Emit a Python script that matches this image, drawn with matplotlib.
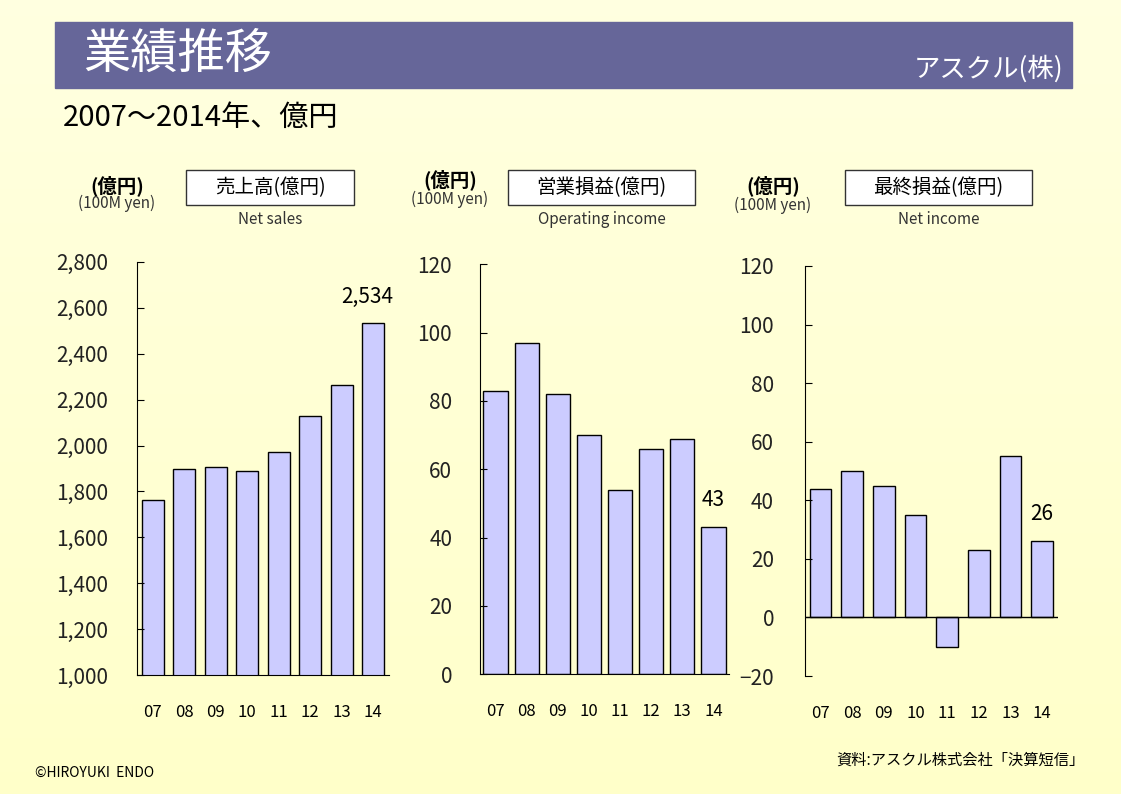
import numpy as np
import matplotlib
matplotlib.use('Agg')
import matplotlib.pyplot as plt
from matplotlib.patches import Rectangle
from matplotlib.ticker import FuncFormatter

plt.rcParams['font.family'] = ['Noto Sans CJK JP', 'DejaVu Sans']

# data (億円)
years = ['07', '08', '09', '10', '11', '12', '13', '14']
net_sales = [1763, 1898, 1907, 1889, 1972, 2129, 2264, 2534]
operating_income = [83, 97, 82, 70, 54, 66, 69, 43]
net_income = [44, 50, 45, 35, -10, 23, 55, 26]

bar_color = '#CCCCFF'

fig = plt.figure(figsize=(11.21, 7.94), dpi=100)

# background + header drawn in pixel coordinates
bg = fig.add_axes([0, 0, 1, 1], zorder=-1)
grad = np.linspace(0, 1, 256).reshape(-1, 1)
c_top = np.array([1.0, 1.0, 0.88])
c_bot = np.array([1.0, 1.0, 0.79])
img = c_top + grad[:, :, None] * (c_bot - c_top)
bg.imshow(img, extent=[0, 1121, 794, 0], aspect='auto')
bg.set_xlim(0, 1121)
bg.set_ylim(794, 0)
bg.axis('off')

bg.add_patch(Rectangle((55, 22), 1017, 66, color='#666699'))
bg.text(83, 55, '業績推移', color='white', fontsize=34, va='center', ha='left')
bg.text(1063, 69, 'アスクル(株)', color='white', fontsize=19, va='center', ha='right')
bg.text(63, 118, '2007〜2014年、億円', color='black', fontsize=21, va='center', ha='left')

headers = [
    (117, 186, 203, 186, 354, '売上高(億円)', 'Net sales'),
    (450, 180, 199, 508, 695, '営業損益(億円)', 'Operating income'),
    (773, 186, 205, 845, 1032, '最終損益(億円)', 'Net income'),
]
for ux, uy, ey, bx0, bx1, jp, en in headers:
    bg.text(ux, uy, '(億円)', fontsize=14, fontweight='bold', ha='center', va='center')
    bg.text(ux, ey, '(100M yen)', fontsize=11, color='#333333', ha='center', va='center')
    bg.add_patch(Rectangle((bx0, 170), bx1 - bx0, 35, facecolor='white',
                           edgecolor='#333333', lw=1))
    bg.text((bx0 + bx1) / 2, 187.5, jp, fontsize=14, ha='center', va='center')
    bg.text((bx0 + bx1) / 2, 220, en, fontsize=11, color='#333333', ha='center', va='center')

bg.text(35, 773, '©HIROYUKI  ENDO', fontsize=10, style='italic', ha='left', va='center')
bg.text(1085, 760, '資料:アスクル株式会社「決算短信」', fontsize=11, ha='right', va='center')


def style_axis(ax, pad_y):
    ax.set_facecolor('none')
    ax.spines['top'].set_visible(False)
    ax.spines['right'].set_visible(False)
    ax.tick_params(axis='y', direction='in', length=5, pad=pad_y, labelsize=15,
                   labelcolor='#222222')
    ax.tick_params(axis='x', length=0, pad=21, labelsize=12)


x = np.arange(len(years))

# 売上高
ax1 = fig.add_axes([0.1222, 0.1499, 0.2248, 0.5202])
ax1.bar(x, net_sales, width=0.7, color=bar_color, edgecolor='black', lw=1)
ax1.set_ylim(1000, 2800)
ax1.set_yticks(range(1000, 2801, 200))
ax1.yaxis.set_major_formatter(FuncFormatter(lambda v, p: f'{v:,.0f}'))
ax1.set_xlim(-0.5, 7.5)
ax1.set_xticks(x, years)
style_axis(ax1, 21)
ax1.annotate(f'{net_sales[-1]:,}', (x[-1], net_sales[-1]), xytext=(-4, 11),
             textcoords='offset points', ha='center', va='bottom', fontsize=15)

# 営業損益
ax2 = fig.add_axes([0.4282, 0.1508, 0.2221, 0.5164])
ax2.bar(x, operating_income, width=0.78, color=bar_color, edgecolor='black', lw=1)
ax2.set_ylim(0, 120)
ax2.set_yticks(range(0, 121, 20))
ax2.set_xlim(-0.5, 7.5)
ax2.set_xticks(x, years)
style_axis(ax2, 20)
ax2.annotate(f'{operating_income[-1]}', (x[-1], operating_income[-1]), xytext=(0, 12),
             textcoords='offset points', ha='center', va='bottom', fontsize=15)

# 最終損益
ax3 = fig.add_axes([0.7178, 0.1486, 0.2260, 0.5164])
ax3.bar(x, net_income, width=0.68, color=bar_color, edgecolor='black', lw=1)
ax3.set_ylim(-20, 120)
ax3.set_yticks(range(-20, 121, 20))
ax3.set_xlim(-0.5, 7.5)
ax3.set_xticks(x, years)
style_axis(ax3, 22)
ax3.spines['bottom'].set_visible(False)
ax3.axhline(0, color='black', lw=1)
ax3.annotate(f'{net_income[-1]}', (x[-1], net_income[-1]), xytext=(0, 12),
             textcoords='offset points', ha='center', va='bottom', fontsize=15)

fig.savefig('out.png', dpi=100)
